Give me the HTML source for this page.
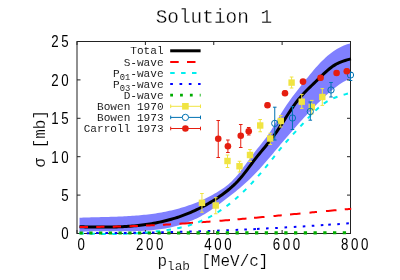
<!DOCTYPE html>
<html><head><meta charset="utf-8"><title>Solution 1</title>
<style>
html,body{margin:0;padding:0;background:#fff;}
svg{display:block;}
text{font-family:"Liberation Mono",monospace;fill:#000;filter:grayscale(1);}
.m{stroke:#fff;paint-order:fill stroke;}
.s{font-family:"Liberation Sans",sans-serif;font-size:16.2px;letter-spacing:3.19px;}
</style></head><body>
<svg width="400" height="280" viewBox="0 0 400 280">
<rect width="400" height="280" fill="#fff"/>
<defs><clipPath id="c"><rect x="77.0" y="41.5" width="274.5" height="193.8"/></clipPath></defs>
<g clip-path="url(#c)">
<path d="M79.50,217.75 L81.45,217.67 L83.41,217.60 L85.36,217.53 L87.31,217.47 L89.27,217.41 L91.22,217.35 L93.17,217.30 L95.13,217.25 L97.08,217.20 L99.03,217.15 L100.99,217.10 L102.94,217.05 L104.89,217.00 L106.85,216.95 L108.80,216.89 L110.75,216.84 L112.71,216.78 L114.66,216.71 L116.61,216.65 L118.56,216.57 L120.52,216.49 L122.47,216.41 L124.42,216.31 L126.38,216.21 L128.33,216.11 L130.28,215.99 L132.24,215.86 L134.19,215.73 L136.14,215.58 L138.10,215.42 L140.05,215.25 L142.00,215.07 L143.96,214.87 L145.91,214.66 L147.86,214.44 L149.82,214.20 L151.77,213.95 L153.72,213.68 L155.68,213.39 L157.63,213.08 L159.58,212.76 L161.54,212.42 L163.49,212.06 L165.44,211.68 L167.40,211.28 L169.35,210.86 L171.30,210.42 L173.26,209.96 L175.21,209.47 L177.16,208.96 L179.12,208.43 L181.07,207.87 L183.02,207.28 L184.97,206.67 L186.93,206.04 L188.88,205.37 L190.83,204.68 L192.79,203.96 L194.74,203.22 L196.69,202.44 L198.65,201.63 L200.60,200.78 L202.55,199.91 L204.51,198.99 L206.46,198.04 L208.41,197.06 L210.37,196.03 L212.32,194.97 L214.27,193.86 L216.23,192.72 L218.18,191.53 L220.13,190.29 L222.09,189.01 L224.04,187.66 L225.99,186.23 L227.95,184.69 L229.90,183.00 L231.85,181.15 L233.81,179.12 L235.76,176.94 L237.71,174.63 L239.67,172.20 L241.62,169.69 L243.57,167.11 L245.53,164.48 L247.48,161.82 L249.43,159.16 L251.38,156.51 L253.34,153.90 L255.29,151.35 L257.24,148.87 L259.20,146.45 L261.15,144.04 L263.10,141.61 L265.06,139.10 L267.01,136.48 L268.96,133.70 L270.92,130.72 L272.87,127.52 L274.82,124.16 L276.78,120.75 L278.73,117.38 L280.68,114.13 L282.64,111.00 L284.59,107.98 L286.54,105.06 L288.50,102.23 L290.45,99.49 L292.40,96.81 L294.36,94.21 L296.31,91.65 L298.26,89.14 L300.22,86.66 L302.17,84.21 L304.12,81.78 L306.08,79.36 L308.03,76.94 L309.98,74.54 L311.94,72.18 L313.89,69.87 L315.84,67.61 L317.79,65.42 L319.75,63.32 L321.70,61.31 L323.65,59.39 L325.61,57.58 L327.56,55.86 L329.51,54.24 L331.47,52.72 L333.42,51.30 L335.37,49.99 L337.33,48.77 L339.28,47.66 L341.23,46.66 L343.19,45.76 L345.14,44.97 L347.09,44.28 L349.05,43.70 L351.00,43.23 L351.00,78.23 L349.05,79.03 L347.09,79.94 L345.14,80.96 L343.19,82.08 L341.23,83.29 L339.28,84.60 L337.33,85.99 L335.37,87.46 L333.42,89.00 L331.47,90.62 L329.51,92.29 L327.56,94.02 L325.61,95.80 L323.65,97.62 L321.70,99.48 L319.75,101.38 L317.79,103.31 L315.84,105.26 L313.89,107.25 L311.94,109.26 L309.98,111.30 L308.03,113.36 L306.08,115.45 L304.12,117.57 L302.17,119.70 L300.22,121.86 L298.26,124.03 L296.31,126.23 L294.36,128.44 L292.40,130.67 L290.45,132.92 L288.50,135.18 L286.54,137.45 L284.59,139.74 L282.64,142.04 L280.68,144.35 L278.73,146.67 L276.78,148.99 L274.82,151.32 L272.87,153.65 L270.92,155.97 L268.96,158.28 L267.01,160.56 L265.06,162.83 L263.10,165.06 L261.15,167.26 L259.20,169.41 L257.24,171.52 L255.29,173.57 L253.34,175.57 L251.38,177.52 L249.43,179.41 L247.48,181.25 L245.53,183.05 L243.57,184.79 L241.62,186.50 L239.67,188.17 L237.71,189.80 L235.76,191.40 L233.81,192.97 L231.85,194.51 L229.90,196.03 L227.95,197.53 L225.99,199.02 L224.04,200.49 L222.09,201.95 L220.13,203.41 L218.18,204.85 L216.23,206.29 L214.27,207.70 L212.32,209.08 L210.37,210.43 L208.41,211.73 L206.46,212.99 L204.51,214.19 L202.55,215.33 L200.60,216.41 L198.65,217.45 L196.69,218.43 L194.74,219.36 L192.79,220.24 L190.83,221.07 L188.88,221.86 L186.93,222.61 L184.97,223.32 L183.02,223.99 L181.07,224.62 L179.12,225.21 L177.16,225.76 L175.21,226.29 L173.26,226.77 L171.30,227.23 L169.35,227.65 L167.40,228.05 L165.44,228.41 L163.49,228.75 L161.54,229.06 L159.58,229.34 L157.63,229.60 L155.68,229.84 L153.72,230.05 L151.77,230.24 L149.82,230.41 L147.86,230.56 L145.91,230.69 L143.96,230.81 L142.00,230.90 L140.05,230.99 L138.10,231.06 L136.14,231.11 L134.19,231.16 L132.24,231.19 L130.28,231.22 L128.33,231.23 L126.38,231.24 L124.42,231.24 L122.47,231.24 L120.52,231.23 L118.56,231.22 L116.61,231.21 L114.66,231.19 L112.71,231.18 L110.75,231.16 L108.80,231.15 L106.85,231.15 L104.89,231.14 L102.94,231.15 L100.99,231.15 L99.03,231.17 L97.08,231.20 L95.13,231.23 L93.17,231.28 L91.22,231.34 L89.27,231.41 L87.31,231.49 L85.36,231.60 L83.41,231.71 L81.45,231.85 L79.50,232.00Z" fill="#8080ff"/>
</g>
<rect x="77.0" y="41.5" width="273.5" height="192.0" fill="none" stroke="#222" stroke-width="1"/>
<path d="M77.00,233.5v-3.5M77.00,41.5v3.5M145.38,233.5v-3.5M145.38,41.5v3.5M213.75,233.5v-3.5M213.75,41.5v3.5M282.12,233.5v-3.5M282.12,41.5v3.5M350.50,233.5v-3.5M350.50,41.5v3.5M77.0,233.50h3.5M350.5,233.50h-3.5M77.0,195.10h3.5M350.5,195.10h-3.5M77.0,156.70h3.5M350.5,156.70h-3.5M77.0,118.30h3.5M350.5,118.30h-3.5M77.0,79.90h3.5M350.5,79.90h-3.5M77.0,41.50h3.5M350.5,41.50h-3.5" stroke="#222" stroke-width="1" fill="none"/>
<g clip-path="url(#c)">
<path d="M79.50,226.78 L81.45,226.81 L83.41,226.85 L85.36,226.89 L87.31,226.92 L89.27,226.96 L91.22,226.98 L93.17,227.01 L95.13,227.03 L97.08,227.05 L99.03,227.07 L100.99,227.07 L102.94,227.08 L104.89,227.07 L106.85,227.06 L108.80,227.04 L110.75,227.02 L112.71,226.98 L114.66,226.94 L116.61,226.88 L118.56,226.82 L120.52,226.74 L122.47,226.65 L124.42,226.56 L126.38,226.45 L128.33,226.32 L130.28,226.18 L132.24,226.03 L134.19,225.87 L136.14,225.69 L138.10,225.49 L140.05,225.28 L142.00,225.05 L143.96,224.80 L145.91,224.54 L147.86,224.26 L149.82,223.96 L151.77,223.64 L153.72,223.30 L155.68,222.93 L157.63,222.55 L159.58,222.15 L161.54,221.72 L163.49,221.28 L165.44,220.81 L167.40,220.31 L169.35,219.79 L171.30,219.25 L173.26,218.68 L175.21,218.09 L177.16,217.47 L179.12,216.82 L181.07,216.14 L183.02,215.44 L184.97,214.71 L186.93,213.95 L188.88,213.16 L190.83,212.34 L192.79,211.49 L194.74,210.61 L196.69,209.69 L198.65,208.75 L200.60,207.77 L202.55,206.76 L204.51,205.71 L206.46,204.63 L208.41,203.52 L210.37,202.37 L212.32,201.18 L214.27,199.96 L216.23,198.70 L218.18,197.40 L220.13,196.07 L222.09,194.69 L224.04,193.27 L225.99,191.80 L227.95,190.26 L229.90,188.65 L231.85,186.95 L233.81,185.16 L235.76,183.26 L237.71,181.25 L239.67,179.11 L241.62,176.84 L243.57,174.43 L245.53,171.93 L247.48,169.35 L249.43,166.72 L251.38,164.09 L253.34,161.47 L255.29,158.90 L257.24,156.41 L259.20,153.99 L261.15,151.61 L263.10,149.27 L265.06,146.92 L267.01,144.55 L268.96,142.14 L270.92,139.65 L272.87,137.07 L274.82,134.38 L276.78,131.56 L278.73,128.65 L280.68,125.67 L282.64,122.64 L284.59,119.59 L286.54,116.55 L288.50,113.53 L290.45,110.56 L292.40,107.67 L294.36,104.89 L296.31,102.23 L298.26,99.72 L300.22,97.37 L302.17,95.15 L304.12,93.04 L306.08,91.02 L308.03,89.06 L309.98,87.16 L311.94,85.28 L313.89,83.41 L315.84,81.51 L317.79,79.60 L319.75,77.69 L321.70,75.80 L323.65,73.94 L325.61,72.14 L327.56,70.41 L329.51,68.78 L331.47,67.26 L333.42,65.87 L335.37,64.64 L337.33,63.56 L339.28,62.62 L341.23,61.81 L343.19,61.09 L345.14,60.46 L347.09,59.89 L349.05,59.37 L351.00,58.86" fill="none" stroke="#000" stroke-width="3"/>
<path d="M79.75,226.88 L81.40,226.90 L83.05,226.91 L84.70,226.92 L86.35,226.92 L88.00,226.93M96.25,226.90 L97.90,226.89 L99.55,226.88 L101.20,226.86 L102.85,226.84 L104.50,226.82M112.75,226.69 L114.40,226.65 L116.05,226.61 L117.70,226.58 L119.35,226.54 L121.00,226.49M129.50,226.24 L131.18,226.18 L132.86,226.12 L134.54,226.06 L136.22,226.00 L137.90,225.94M146.00,225.60 L147.75,225.52 L149.50,225.44 L151.25,225.36 L153.00,225.27 L154.75,225.19M162.90,224.76 L164.52,224.67 L166.14,224.58 L167.76,224.48 L169.38,224.39 L171.00,224.29M179.50,223.77 L182.20,223.59 L184.90,223.41 L187.60,223.23 L190.30,223.04 L193.00,222.86M201.50,222.24 L203.30,222.10 L205.10,221.97 L206.90,221.83 L208.70,221.69 L210.50,221.55M219.50,220.83 L221.60,220.66 L223.70,220.49 L225.80,220.32 L227.90,220.14 L230.00,219.96M237.50,219.32 L239.30,219.16 L241.10,219.00 L242.90,218.85 L244.70,218.69 L246.50,218.53M254.00,217.85 L256.10,217.66 L258.20,217.47 L260.30,217.28 L262.40,217.09 L264.50,216.89M273.50,216.06 L275.15,215.90 L276.80,215.75 L278.45,215.59 L280.10,215.44 L281.75,215.28M290.00,214.50 L292.10,214.30 L294.20,214.10 L296.30,213.90 L298.40,213.70 L300.50,213.50M309.50,212.65 L311.00,212.51 L312.50,212.37 L314.00,212.23 L315.50,212.08 L317.00,211.94M326.00,211.10 L328.10,210.90 L330.20,210.71 L332.30,210.51 L334.40,210.32 L336.50,210.13M344.75,209.37 L346.10,209.25 L347.45,209.13 L348.80,209.01 L350.15,208.89 L351.50,208.77" fill="none" stroke="#f00" stroke-width="2"/>
<path d="M79.50,233.30 L81.45,233.39 L83.41,233.48 L85.36,233.56 L87.31,233.63 L89.27,233.70 L91.22,233.76 L93.17,233.82 L95.13,233.87 L97.08,233.92 L99.03,233.96 L100.99,233.99 L102.94,234.02 L104.89,234.03 L106.85,234.05 L108.80,234.05 L110.75,234.05 L112.71,234.04 L114.66,234.02 L116.61,233.99 L118.56,233.96 L120.52,233.92 L122.47,233.87 L124.42,233.81 L126.38,233.74 L128.33,233.67 L130.28,233.58 L132.24,233.49 L134.19,233.38 L136.14,233.27 L138.10,233.15 L140.05,233.01 L142.00,232.87 L143.96,232.72 L145.91,232.56 L147.86,232.38 L149.82,232.20 L151.77,232.00 L153.72,231.80 L155.68,231.58 L157.63,231.35 L159.58,231.12 L161.54,230.86 L163.49,230.60 L165.44,230.33 L167.40,230.04 L169.35,229.73 L171.30,229.41 L173.26,229.07 L175.21,228.71 L177.16,228.32 L179.12,227.91 L181.07,227.47 L183.02,227.01 L184.97,226.51 L186.93,225.98 L188.88,225.42 L190.83,224.82 L192.79,224.19 L194.74,223.52 L196.69,222.80 L198.65,222.05 L200.60,221.25 L202.55,220.40 L204.51,219.51 L206.46,218.58 L208.41,217.60 L210.37,216.57 L212.32,215.49 L214.27,214.37 L216.23,213.20 L218.18,211.98 L220.13,210.71 L222.09,209.39 L224.04,208.02 L225.99,206.59 L227.95,205.12 L229.90,203.59 L231.85,202.02 L233.81,200.39 L235.76,198.71 L237.71,196.99 L239.67,195.21 L241.62,193.39 L243.57,191.52 L245.53,189.60 L247.48,187.64 L249.43,185.63 L251.38,183.58 L253.34,181.48 L255.29,179.34 L257.24,177.15 L259.20,174.92 L261.15,172.65 L263.10,170.34 L265.06,167.98 L267.01,165.59 L268.96,163.16 L270.92,160.72 L272.87,158.26 L274.82,155.79 L276.78,153.34 L278.73,150.90 L280.68,148.49 L282.64,146.12 L284.59,143.79 L286.54,141.52 L288.50,139.31 L290.45,137.14 L292.40,135.00 L294.36,132.89 L296.31,130.79 L298.26,128.70 L300.22,126.61 L302.17,124.51 L304.12,122.39 L306.08,120.28 L308.03,118.19 L309.98,116.12 L311.94,114.10 L313.89,112.14 L315.84,110.25 L317.79,108.44 L319.75,106.73 L321.70,105.14 L323.65,103.68 L325.61,102.35 L327.56,101.16 L329.51,100.09 L331.47,99.13 L333.42,98.27 L335.37,97.49 L337.33,96.78 L339.28,96.12 L341.23,95.51 L343.19,94.93 L345.14,94.37 L347.09,93.81 L349.05,93.24 L351.00,92.65" fill="none" stroke="#00eeee" stroke-width="2" stroke-dasharray="4.5 6.4"/>
<path d="M86.80,233.14L89.40,233.14M96.10,233.12L98.70,233.11M105.40,233.08L108.00,233.06M114.70,233.01L117.30,232.99M124.00,232.92L126.60,232.89M133.30,232.81L135.90,232.77M142.60,232.67L145.20,232.63M151.90,232.51L154.50,232.46M161.20,232.32L163.80,232.26M170.50,232.10L173.10,232.04M179.80,231.87L182.40,231.80M189.10,231.61L191.70,231.53M198.40,231.32L201.00,231.24M207.70,231.01L210.30,230.92M217.00,230.67L219.60,230.58M226.30,230.31L228.90,230.21M235.60,229.93L238.20,229.82M244.30,229.55L246.90,229.43M253.30,229.13L255.90,229.01M257.00,228.95L259.60,228.83M266.00,228.50L268.60,228.37M275.20,228.02L277.80,227.88M284.50,227.51L287.10,227.36M293.80,226.97L296.40,226.81M302.75,226.43L305.35,226.27M311.75,225.86L314.35,225.69M320.75,225.27L323.35,225.10M328.25,224.76L330.85,224.58M337.25,224.13L339.85,223.94M346.25,223.47L348.85,223.28" fill="none" stroke="#00f" stroke-width="2"/>
<path d="M79.50,233.00 L81.45,233.00 L83.41,233.00 L85.36,233.00 L87.31,232.99 L89.27,232.99 L91.22,232.99 L93.17,232.99 L95.13,232.99 L97.08,232.99 L99.03,232.99 L100.99,232.98 L102.94,232.98 L104.89,232.98 L106.85,232.98 L108.80,232.98 L110.75,232.98 L112.71,232.98 L114.66,232.97 L116.61,232.97 L118.56,232.97 L120.52,232.97 L122.47,232.97 L124.42,232.97 L126.38,232.97 L128.33,232.96 L130.28,232.96 L132.24,232.96 L134.19,232.96 L136.14,232.96 L138.10,232.96 L140.05,232.96 L142.00,232.95 L143.96,232.95 L145.91,232.95 L147.86,232.95 L149.82,232.95 L151.77,232.95 L153.72,232.95 L155.68,232.94 L157.63,232.94 L159.58,232.94 L161.54,232.94 L163.49,232.94 L165.44,232.94 L167.40,232.94 L169.35,232.93 L171.30,232.93 L173.26,232.93 L175.21,232.93 L177.16,232.93 L179.12,232.93 L181.07,232.93 L183.02,232.92 L184.97,232.92 L186.93,232.92 L188.88,232.92 L190.83,232.92 L192.79,232.92 L194.74,232.92 L196.69,232.91 L198.65,232.91 L200.60,232.91 L202.55,232.91 L204.51,232.91 L206.46,232.91 L208.41,232.91 L210.37,232.90 L212.32,232.90 L214.27,232.90 L216.23,232.90 L218.18,232.90 L220.13,232.90 L222.09,232.89 L224.04,232.89 L225.99,232.89 L227.95,232.89 L229.90,232.89 L231.85,232.89 L233.81,232.89 L235.76,232.88 L237.71,232.88 L239.67,232.88 L241.62,232.88 L243.57,232.88 L245.53,232.88 L247.48,232.88 L249.43,232.87 L251.38,232.87 L253.34,232.87 L255.29,232.87 L257.24,232.87 L259.20,232.87 L261.15,232.87 L263.10,232.86 L265.06,232.86 L267.01,232.86 L268.96,232.86 L270.92,232.86 L272.87,232.86 L274.82,232.86 L276.78,232.85 L278.73,232.85 L280.68,232.85 L282.64,232.85 L284.59,232.85 L286.54,232.85 L288.50,232.85 L290.45,232.84 L292.40,232.84 L294.36,232.84 L296.31,232.84 L298.26,232.84 L300.22,232.84 L302.17,232.84 L304.12,232.83 L306.08,232.83 L308.03,232.83 L309.98,232.83 L311.94,232.83 L313.89,232.83 L315.84,232.83 L317.79,232.82 L319.75,232.82 L321.70,232.82 L323.65,232.82 L325.61,232.82 L327.56,232.82 L329.51,232.82 L331.47,232.81 L333.42,232.81 L335.37,232.81 L337.33,232.81 L339.28,232.81 L341.23,232.81 L343.19,232.81 L345.14,232.80 L347.09,232.80 L349.05,232.80 L351.00,232.80" fill="none" stroke="#00ac00" stroke-width="3.1" stroke-dasharray="3.3 6.45" stroke-dashoffset="0"/>
</g>
<path d="M201.95,193.50V212.25M200.15,193.50H203.75M200.15,212.25H203.75" stroke="#f0e442" stroke-width="1" fill="none"/>
<rect x="198.75" y="199.60" width="6.4" height="6.4" fill="#f0e442"/>
<path d="M215.75,197.70V213.75M213.95,197.70H217.55M213.95,213.75H217.55" stroke="#f0e442" stroke-width="1" fill="none"/>
<rect x="212.55" y="202.30" width="6.4" height="6.4" fill="#f0e442"/>
<path d="M227.50,155.00V167.50M225.70,155.00H229.30M225.70,167.50H229.30" stroke="#f0e442" stroke-width="1" fill="none"/>
<rect x="224.30" y="157.80" width="6.4" height="6.4" fill="#f0e442"/>
<path d="M239.50,161.25V172.00M237.70,161.25H241.30M237.70,172.00H241.30" stroke="#f0e442" stroke-width="1" fill="none"/>
<rect x="236.30" y="163.05" width="6.4" height="6.4" fill="#f0e442"/>
<path d="M250.00,149.50V161.50M248.20,149.50H251.80M248.20,161.50H251.80" stroke="#f0e442" stroke-width="1" fill="none"/>
<rect x="246.80" y="151.80" width="6.4" height="6.4" fill="#f0e442"/>
<path d="M260.20,119.50V131.75M258.40,119.50H262.00M258.40,131.75H262.00" stroke="#f0e442" stroke-width="1" fill="none"/>
<rect x="257.00" y="122.30" width="6.4" height="6.4" fill="#f0e442"/>
<path d="M270.25,133.25V144.50M268.45,133.25H272.05M268.45,144.50H272.05" stroke="#f0e442" stroke-width="1" fill="none"/>
<rect x="267.05" y="135.30" width="6.4" height="6.4" fill="#f0e442"/>
<path d="M280.75,115.50V127.00M278.95,115.50H282.55M278.95,127.00H282.55" stroke="#f0e442" stroke-width="1" fill="none"/>
<rect x="277.55" y="117.80" width="6.4" height="6.4" fill="#f0e442"/>
<path d="M291.60,77.00V88.00M289.80,77.00H293.40M289.80,88.00H293.40" stroke="#f0e442" stroke-width="1" fill="none"/>
<rect x="288.40" y="79.40" width="6.4" height="6.4" fill="#f0e442"/>
<path d="M301.75,94.40V108.40M299.95,94.40H303.55M299.95,108.40H303.55" stroke="#f0e442" stroke-width="1" fill="none"/>
<rect x="298.55" y="98.50" width="6.4" height="6.4" fill="#f0e442"/>
<path d="M311.80,100.40V114.00M310.00,100.40H313.60M310.00,114.00H313.60" stroke="#f0e442" stroke-width="1" fill="none"/>
<rect x="308.60" y="103.80" width="6.4" height="6.4" fill="#f0e442"/>
<path d="M322.30,88.60V105.40M320.50,88.60H324.10M320.50,105.40H324.10" stroke="#f0e442" stroke-width="1" fill="none"/>
<rect x="319.10" y="93.80" width="6.4" height="6.4" fill="#f0e442"/>
<path d="M274.75,107.20V140.00M272.95,107.20H276.55M272.95,140.00H276.55" stroke="#0072b2" stroke-width="1" fill="none"/>
<circle cx="274.75" cy="123.40" r="3.15" fill="none" stroke="#0072b2" stroke-width="1"/>
<path d="M292.45,106.60V129.50M290.65,106.60H294.25M290.65,129.50H294.25" stroke="#0072b2" stroke-width="1" fill="none"/>
<circle cx="292.45" cy="118.00" r="3.15" fill="none" stroke="#0072b2" stroke-width="1"/>
<path d="M310.30,102.00V120.20M308.50,102.00H312.10M308.50,120.20H312.10" stroke="#0072b2" stroke-width="1" fill="none"/>
<circle cx="310.30" cy="111.50" r="3.15" fill="none" stroke="#0072b2" stroke-width="1"/>
<path d="M331.00,82.50V97.00M329.20,82.50H332.80M329.20,97.00H332.80" stroke="#0072b2" stroke-width="1" fill="none"/>
<circle cx="331.00" cy="90.00" r="3.15" fill="none" stroke="#0072b2" stroke-width="1"/>
<path d="M350.50,72.50V80.50M348.70,72.50H352.30M348.70,80.50H352.30" stroke="#0072b2" stroke-width="1" fill="none"/>
<circle cx="350.50" cy="75.00" r="3.15" fill="none" stroke="#0072b2" stroke-width="1"/>
<path d="M218.25,120.50V157.50M216.45,120.50H220.05M216.45,157.50H220.05" stroke="#e51e10" stroke-width="1" fill="none"/>
<circle cx="218.25" cy="138.75" r="3.3" fill="#e51e10"/>
<path d="M227.90,140.00V152.50M226.10,140.00H229.70M226.10,152.50H229.70" stroke="#e51e10" stroke-width="1" fill="none"/>
<circle cx="227.90" cy="146.30" r="3.3" fill="#e51e10"/>
<path d="M240.75,124.50V147.50M238.95,124.50H242.55M238.95,147.50H242.55" stroke="#e51e10" stroke-width="1" fill="none"/>
<circle cx="240.75" cy="135.75" r="3.3" fill="#e51e10"/>
<path d="M248.75,127.50V135.00M246.95,127.50H250.55M246.95,135.00H250.55" stroke="#e51e10" stroke-width="1" fill="none"/>
<circle cx="248.75" cy="131.25" r="3.3" fill="#e51e10"/>
<path d="M267.50,103.00V107.00M265.70,103.00H269.30M265.70,107.00H269.30" stroke="#e51e10" stroke-width="1" fill="none"/>
<circle cx="267.50" cy="105.20" r="3.3" fill="#e51e10"/>
<path d="M285.00,91.00V95.00M283.20,91.00H286.80M283.20,95.00H286.80" stroke="#e51e10" stroke-width="1" fill="none"/>
<circle cx="285.00" cy="93.30" r="3.3" fill="#e51e10"/>
<path d="M303.00,80.00V84.00M301.20,80.00H304.80M301.20,84.00H304.80" stroke="#e51e10" stroke-width="1" fill="none"/>
<circle cx="303.00" cy="81.60" r="3.3" fill="#e51e10"/>
<path d="M320.60,76.00V80.00M318.80,76.00H322.40M318.80,80.00H322.40" stroke="#e51e10" stroke-width="1" fill="none"/>
<circle cx="320.60" cy="77.80" r="3.3" fill="#e51e10"/>
<path d="M336.60,71.00V75.00M334.80,71.00H338.40M334.80,75.00H338.40" stroke="#e51e10" stroke-width="1" fill="none"/>
<circle cx="336.60" cy="73.00" r="3.3" fill="#e51e10"/>
<path d="M346.80,69.00V73.00M345.00,69.00H348.60M345.00,73.00H348.60" stroke="#e51e10" stroke-width="1" fill="none"/>
<circle cx="346.80" cy="71.20" r="3.3" fill="#e51e10"/>
<text class="s" transform="translate(77.60,250.2) scale(0.82,1)">0</text>
<text class="s" transform="translate(135.97,250.2) scale(0.82,1)">200</text>
<text class="s" transform="translate(204.35,250.2) scale(0.82,1)">400</text>
<text class="s" transform="translate(272.73,250.2) scale(0.82,1)">600</text>
<text class="s" transform="translate(341.10,250.2) scale(0.82,1)">800</text>
<text class="s" transform="translate(61.20,239.30) scale(0.82,1)">0</text>
<text class="s" transform="translate(61.20,200.90) scale(0.82,1)">5</text>
<text class="s" transform="translate(51.20,162.50) scale(0.82,1)">10</text>
<text class="s" transform="translate(51.20,124.10) scale(0.82,1)">15</text>
<text class="s" transform="translate(51.20,85.70) scale(0.82,1)">20</text>
<text class="s" transform="translate(51.20,47.30) scale(0.82,1)">25</text>
<text class="m" x="213.9" y="22.8" font-size="19.4" stroke-width="0.28" text-anchor="middle">Solution 1</text>
<text class="m" x="157.4" y="265.7" font-size="16" stroke-width="0.15">p<tspan font-size="12.8" dy="4.2">lab</tspan><tspan dy="-4.2" dx="1.6"> [MeV/c]</tspan></text>
<text class="m" transform="translate(44.5,138.8) rotate(-90)" font-size="16" stroke-width="0.15" text-anchor="middle">σ [mb]</text>
<text class="m" x="163.6" y="54.40" font-size="11.1" stroke-width="0.08" text-anchor="end">Total</text>
<text class="m" x="163.6" y="65.50" font-size="11.1" stroke-width="0.08" text-anchor="end">S-wave</text>
<text class="m" x="163.6" y="76.60" font-size="11.1" stroke-width="0.08" text-anchor="end">P<tspan font-size="8.8" dy="3">01</tspan><tspan dy="-3">-wave</tspan></text>
<text class="m" x="163.6" y="87.70" font-size="11.1" stroke-width="0.08" text-anchor="end">P<tspan font-size="8.8" dy="3">03</tspan><tspan dy="-3">-wave</tspan></text>
<text class="m" x="163.6" y="98.80" font-size="11.1" stroke-width="0.08" text-anchor="end">D-wave</text>
<text class="m" x="163.6" y="109.90" font-size="11.1" stroke-width="0.08" text-anchor="end">Bowen 1970</text>
<text class="m" x="163.6" y="121.00" font-size="11.1" stroke-width="0.08" text-anchor="end">Bowen 1973</text>
<text class="m" x="163.6" y="132.10" font-size="11.1" stroke-width="0.08" text-anchor="end">Carroll 1973</text>
<path d="M170.2,50.8H200.6" stroke="#000" stroke-width="3"/>
<path d="M170.2,61.9H200.6" stroke="#f00" stroke-width="2" stroke-dasharray="8.5 8.3"/>
<path d="M170.2,73.0H200.6" stroke="#00eeee" stroke-width="2" stroke-dasharray="4.5 6.4"/>
<path d="M170.2,84.1H200.6" stroke="#00f" stroke-width="2" stroke-dasharray="2.7 6.6"/>
<path d="M170.2,95.19999999999999H200.6" stroke="#00ac00" stroke-width="2.8" stroke-dasharray="2.8 7.05"/>
<path d="M170.7,106.3H200.5M170.7,104.5v3.6M200.5,104.5v3.6" stroke="#f0e442" stroke-width="1" fill="none"/>
<path d="M170.7,117.39999999999999H200.5M170.7,115.6v3.6M200.5,115.6v3.6" stroke="#0072b2" stroke-width="1" fill="none"/>
<path d="M170.7,128.5H200.5M170.7,126.7v3.6M200.5,126.7v3.6" stroke="#e51e10" stroke-width="1" fill="none"/>
<rect x="182.09999999999997" y="103.0" width="6.6" height="6.6" fill="#f0e442"/>
<circle cx="185.39999999999998" cy="117.39999999999999" r="3.15" fill="#fff" stroke="#0072b2" stroke-width="1"/>
<circle cx="185.39999999999998" cy="128.5" r="3.3" fill="#e51e10"/>
</svg></body></html>
